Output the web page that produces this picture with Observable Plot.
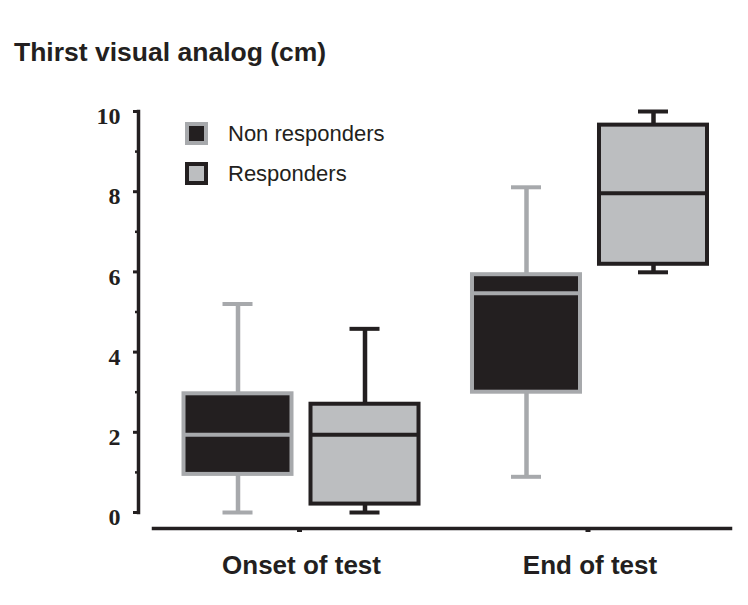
<!DOCTYPE html>
<html>
<head>
<meta charset="utf-8">
<script src="https://cdn.jsdelivr.net/npm/d3@7"></script>
<script src="https://cdn.jsdelivr.net/npm/@observablehq/plot@0.6"></script>
<style>
  body { margin: 0; background: #fff; }
  #wrap { position: relative; width: 748px; height: 605px; background: #fff; }
  #title { box-sizing: border-box; height: 90px; padding-top: 37px; padding-left: 14px;
           font: bold 26.5px/30px "Liberation Sans", Arial, sans-serif; color: #231f20; }
  #chart svg { display: block; }
  #legend { position: absolute; left: 185px; top: 122px; font: 22px/23px "Liberation Sans", Arial, sans-serif; color: #231f20; }
  .row { display: flex; align-items: center; height: 23px; margin-bottom: 17px; }
  .sw { box-sizing: border-box; width: 23px; height: 23px; border: 4px solid; margin-right: 20px; }
</style>
</head>
<body>
<div id="wrap">
  <div id="title">Thirst visual analog (cm)</div>
  <div id="chart"></div>
  <div id="legend"></div>
</div>
<script>
// ---- data ----
const groups = ["Onset of test", "End of test"];
const series = ["Non responders", "Responders"];
const yTicks = [0, 2, 4, 6, 8, 10];
const yMinorTicks = [1, 3, 5, 7, 9];

// Non responders: per group
const nrMin = [0, 0.89];
const nrQ1 = [0.95, 3.0];
const nrMed = [1.94, 5.47];
const nrQ3 = [2.96, 5.93];
const nrMax = [5.2, 8.11];
// Responders
const rMin = [0, 5.99];
const rQ1 = [0.21, 6.19];
const rMed = [1.94, 7.96];
const rQ3 = [2.7, 9.66];
const rMax = [4.58, 10.0];

const dark = "#231f20";
const grayStroke = "#a7a9ac";
const grayFill = "#bcbec0";

const nrRows = groups.map((g, i) => ({group: g, series: series[0], min: nrMin[i], q1: nrQ1[i], med: nrMed[i], q3: nrQ3[i], max: nrMax[i]}));
const rRows = groups.map((g, i) => ({group: g, series: series[1], min: rMin[i], q1: rQ1[i], med: rMed[i], q3: rQ3[i], max: rMax[i]}));

function boxMarks(rows, fill, stroke, dx) {
  return [
    Plot.ruleX(rows, {x: "group", y1: "min", y2: "max", stroke, strokeWidth: 4.5, dx}),
    Plot.tickY(rows, {x: "group", y: "min", stroke, strokeWidth: 4, dx, insetLeft: 39, insetRight: 39}),
    Plot.tickY(rows, {x: "group", y: "max", stroke, strokeWidth: 4, dx, insetLeft: 39, insetRight: 39}),
    Plot.barY(rows, {x: "group", y1: "q1", y2: "q3", fill, stroke, strokeWidth: 4, dx}),
    Plot.tickY(rows, {x: "group", y: "med", stroke, strokeWidth: 4, dx})
  ];
}

const chart = Plot.plot({
  width: 748,
  height: 515,
  marginTop: 21,
  marginLeft: 138,
  marginRight: 18,
  marginBottom: 77,
  style: {background: "#fff", color: dark, fontFamily: "Liberation Sans, Arial, sans-serif"},
  x: {type: "band", domain: groups, range: [247, 643.5], paddingInner: 0.6256, paddingOuter: 0, round: false, label: null},
  y: {domain: [0, 10], range: [422, 21], label: null},
  marks: [
    Plot.frame({anchor: "left", insetBottom: 16, strokeWidth: 3.5, stroke: dark, strokeLinecap: "square"}),
    Plot.frame({anchor: "bottom", insetLeft: 15, strokeWidth: 3.5, stroke: dark}),
    Plot.axisY(yTicks, {tickSize: 5, strokeWidth: 3, stroke: dark, tickFormat: () => "", label: null}),
    Plot.axisY(yTicks, {tickSize: 0, tickPadding: 18, fill: dark, dy: 5, label: null,
      fontSize: 24, fontWeight: "bold", fontFamily: "Liberation Serif, Times New Roman, serif"}),
    Plot.axisY(yMinorTicks, {tickSize: 3, strokeWidth: 2.5, stroke: dark, tickFormat: () => "", label: null}),
    Plot.axisX({tickSize: 4, strokeWidth: 5, stroke: dark, tickFormat: () => "", label: null, dx: -2}),
    Plot.axisX({tickSize: 0, tickPadding: 27, fill: dark, label: null, dx: 0,
      fontSize: 26, fontWeight: "bold", fontFamily: "Liberation Sans, Arial, sans-serif"}),
    ...boxMarks(nrRows, dark, grayStroke, -63.5),
    ...boxMarks(rRows, grayFill, dark, 63.5)
  ]
});
document.getElementById("chart").appendChild(chart);

// legend
const legend = document.getElementById("legend");
const legendStyles = [{fill: dark, stroke: grayStroke}, {fill: grayFill, stroke: dark}];
series.forEach((s, i) => {
  const row = document.createElement("div");
  row.className = "row";
  const sw = document.createElement("div");
  sw.className = "sw";
  sw.style.background = legendStyles[i].fill;
  sw.style.borderColor = legendStyles[i].stroke;
  const t = document.createElement("span");
  t.textContent = s;
  row.appendChild(sw);
  row.appendChild(t);
  legend.appendChild(row);
});
</script>
</body>
</html>
